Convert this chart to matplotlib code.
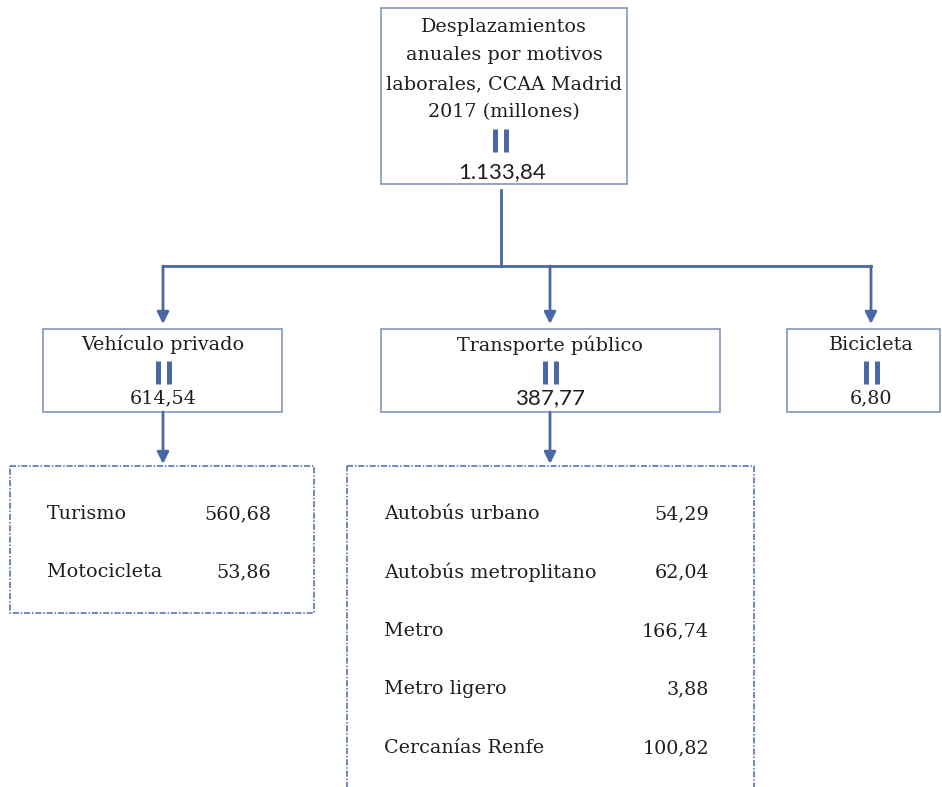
import matplotlib
matplotlib.use("Agg")
import matplotlib.pyplot as plt
from matplotlib.patches import Rectangle

# data
top_lines = ["Desplazamientos", "anuales por motivos", "laborales, CCAA Madrid", "2017 (millones)"]
total = 1133.84
modos = ["Vehículo privado", "Transporte público", "Bicicleta"]
modos_val = [614.54, 387.77, 6.80]
privado = ["Turismo", "Motocicleta"]
privado_val = [560.68, 53.86]
publico = ["Autobús urbano", "Autobús metroplitano", "Metro", "Metro ligero", "Cercanías Renfe"]
publico_val = [54.29, 62.04, 166.74, 3.88, 100.82]


def es(v):
    s = "{:,.2f}".format(v)
    return s.replace(",", "X").replace(".", ",").replace("X", ".")


blue = "#4a68a6"
border = "#7b8db5"
ink = "#1e1e1e"
serif = "DejaVu Serif"
fs = 13.8

fig = plt.figure(figsize=(9.42, 7.87), dpi=100)
ax = fig.add_axes([0, 0, 1, 1])
ax.set_xlim(0, 942)
ax.set_ylim(787, 0)
ax.axis("off")


def box(x0, y0, x1, y1, dashed=False):
    ls = (0, (4, 1.2, 1, 1.2)) if dashed else "-"
    col = blue if dashed else border
    ax.add_patch(Rectangle((x0, y0), x1 - x0, y1 - y0, fill=False,
                           ec=col, lw=1.1, ls=ls))


def equals(xc, y0, y1):
    for dx in (-5.5, 5.5):
        ax.plot([xc + dx, xc + dx], [y0, y1], color=blue, lw=3.6,
                solid_capstyle="butt")


def arrow(x, y0, y1):
    ax.annotate("", xy=(x, y1), xytext=(x, y0),
                arrowprops=dict(arrowstyle="-|>,head_length=0.7,head_width=0.35",
                                color=blue, lw=2, shrinkA=0, shrinkB=0))


# top box
box(381, 8, 627, 184)
for i, t in enumerate(top_lines):
    ax.text(504, 27 + i * 28.5, t, ha="center", va="center", fontsize=fs,
            family=serif, color=ink)
equals(500, 129, 152)
ax.text(502, 172, es(total), ha="center", va="center", fontsize=16,
        family="Lato", color=ink)

# connectors
ax.plot([501, 501], [190, 266], color=blue, lw=2)
ax.plot([163, 871], [266, 266], color=blue, lw=2)
centers = [163, 550, 871]
for xc in centers:
    arrow(xc, 266, 324)

# mode boxes
bounds = [(43, 282), (381, 720), (787, 940)]
fonts = [serif, "Lato", serif]
for name, val, (x0, x1), xc, fam in zip(modos, modos_val, bounds, centers, fonts):
    box(x0, 329, x1, 412)
    ax.text(xc, 345, name, ha="center", va="center", fontsize=fs,
            family=serif, color=ink)
    equals(xc, 361, 384)
    ax.text(xc, 398, es(val), ha="center", va="center",
            fontsize=16 if fam == "Lato" else fs, family=fam, color=ink)

# detail boxes
arrow(163, 412, 464)
arrow(550, 412, 464)
box(10, 466, 314, 613, dashed=True)
box(347, 466, 754, 800, dashed=True)

for i, (n, v) in enumerate(zip(privado, privado_val)):
    y = 514 + i * 58
    ax.text(47, y, n, ha="left", va="center", fontsize=fs, family=serif, color=ink)
    ax.text(271, y, es(v), ha="right", va="center", fontsize=fs, family=serif, color=ink)

for i, (n, v) in enumerate(zip(publico, publico_val)):
    y = 514 + i * 58.5
    ax.text(384, y, n, ha="left", va="center", fontsize=fs, family=serif, color=ink)
    ax.text(709, y, es(v), ha="right", va="center", fontsize=fs, family=serif, color=ink)

fig.savefig("out.png", dpi=100, facecolor="white")
